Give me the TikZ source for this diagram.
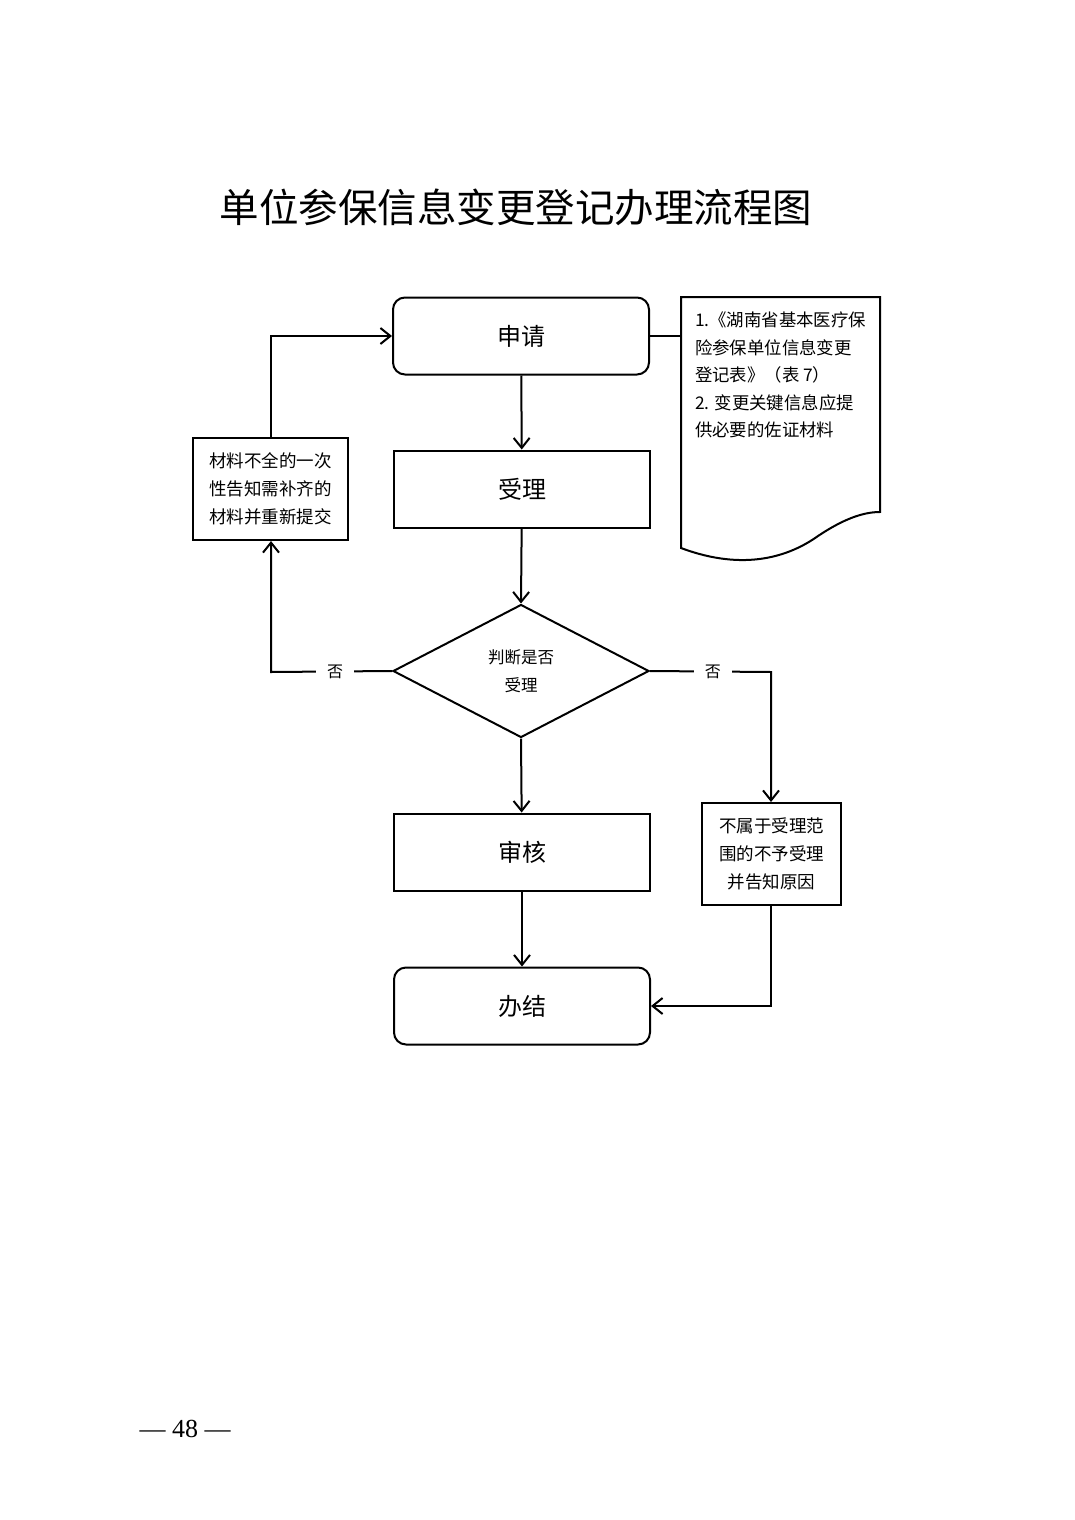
\documentclass[tikz,border=0pt]{standalone}
\usepackage{fontspec}
\setmainfont{Liberation Serif}
\newfontfamily\cjk{Noto Sans CJK SC}
\usetikzlibrary{shapes.geometric,arrows.meta,calc}
\begin{document}
\begin{tikzpicture}[x=1pt,y=-1pt,
  line width=2pt,
  arr/.style={-{Straight Barb[length=10pt,width=16pt,line width=2pt]}},
  mainbox/.style={draw,minimum width=256pt,minimum height=77pt,inner sep=0pt,font=\cjk\fontsize{24}{28}\selectfont},
  roundbox/.style={mainbox,rounded corners=12pt},
  sidebox/.style={draw,inner sep=0pt,align=center,font=\cjk\fontsize{17.5}{28}\selectfont},
  lbl/.style={fill=white,inner xsep=11pt,inner ysep=4pt,font=\cjk\fontsize{16}{20}\selectfont}
]
\useasboundingbox (0,0) rectangle (1074,1520);
\fill[white] (0,0) rectangle (1074,1520);

\node[font=\cjk\fontsize{39.5}{42}\selectfont] (title) at (516,207) {单位参保信息变更登记办理流程图};

\node[roundbox] (apply) at (521,336) {申请};
\node[mainbox] (accept) at (522,489) {受理};
\node[draw,diamond,aspect=1.92,minimum width=256pt,minimum height=133pt,inner sep=0pt,align=center,font=\cjk\fontsize{16.5}{28}\selectfont] (judge) at (521,671) {判断是否\\受理};
\node[mainbox] (review) at (522,852) {审核};
\node[roundbox] (done) at (522,1006) {办结};

\node[sidebox,minimum width=155pt,minimum height=102pt] (left) at (270.5,489) {材料不全的一次\\性告知需补齐的\\材料并重新提交};
\node[sidebox,minimum width=139pt,minimum height=102pt] (right) at (771.5,854) {不属于受理范\\围的不予受理\\并告知原因};

% document shape
\draw (681,297) -- (880,297) -- (880,512)
  .. controls (862,512) and (842,520) .. (818,536)
  .. controls (790,556) and (745,572) .. (681,548) -- cycle;
\coordinate (docl) at (681,336);
\node[anchor=north west,align=left,inner sep=0pt,font=\cjk\fontsize{17.4}{27.5}\selectfont] (doctext) at (694,311)
  {1.《湖南省基本医疗保\\险参保单位信息变更\\登记表》（表 7）\\2. 变更关键信息应提\\供必要的佐证材料};

\draw (apply.east) -- (docl);

\draw[arr] (apply) -- (accept);
\draw[arr] (accept) -- (judge.north);
\draw[arr] (judge.south) -- (review);
\draw[arr] (review) -- (done);

\coordinate (lc) at (271,672);
\coordinate (rc) at (771,672);
\draw[arr] (judge.west) -- node[lbl,pos=0.47]{否} (lc) -- (left.south -| lc);
\draw[arr] (left.north -| lc) |- (apply.west);
\draw[arr] (judge.east) -- node[lbl,pos=0.52]{否} (rc) -- (right.north -| rc);
\draw[arr] (right.south -| rc) |- (done.east);

\node[font=\fontsize{26}{30}\selectfont] (page) at (185,1429) {— 48 —};
\end{tikzpicture}
\end{document}
